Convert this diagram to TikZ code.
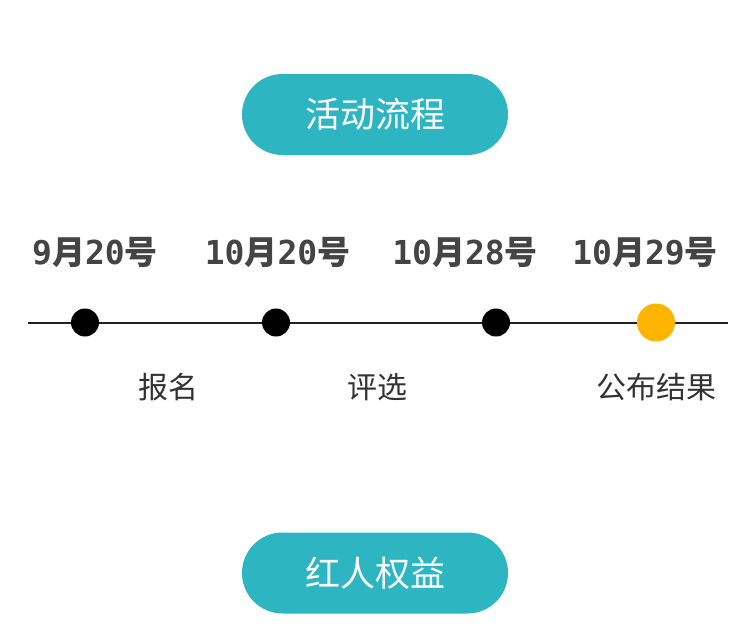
\documentclass[tikz,border=0pt]{standalone}
\usepackage{fontspec}
\newfontfamily\cjk{Noto Sans CJK SC}
\newfontfamily\monob{DejaVu Sans Mono Bold}
\definecolor{teal1}{HTML}{2DB5C1}
\definecolor{orange1}{HTML}{FFB400}
\definecolor{datec}{HTML}{444444}
\definecolor{labc}{HTML}{333333}
\definecolor{linec}{HTML}{222222}
\tikzset{
  pill/.style={fill=teal1, rounded corners=40.5pt, minimum width=266pt, minimum height=81pt, inner sep=0pt,
    text=white, font=\cjk\fontsize{35}{35}\selectfont},
  datelbl/.style={text=datec, inner sep=0pt, font=\cjk\bfseries\fontsize{33}{33}\selectfont},
  steplbl/.style={text=labc, inner sep=0pt, font=\cjk\fontsize{30}{30}\selectfont},
  dot/.style={circle, fill=black, minimum size=28pt, inner sep=0pt},
  bigdot/.style={circle, fill=orange1, minimum size=38pt, inner sep=0pt},
  tline/.style={draw=linec, line width=2pt}
}
\begin{document}
\begin{tikzpicture}[x=1pt,y=-1pt]
\useasboundingbox (0,0) rectangle (750,643);
\node[pill] (p1) at (375,114.5) {活动流程};
\node[pill] (p2) at (375,573) {红人权益};
\node[datelbl] (t1) at (95,252) {{\monob 9}月{\monob 20}号};
\node[datelbl] (t2) at (277.5,252) {{\monob 10}月{\monob 20}号};
\node[datelbl] (t3) at (465,252) {{\monob 10}月{\monob 28}号};
\node[datelbl] (t4) at (645,252) {{\monob 10}月{\monob 29}号};
\coordinate (L) at (28,322.5);
\coordinate (R) at (728,322.5);
\node[dot] (d1) at (85,322.5) {};
\node[dot] (d2) at (276,322.5) {};
\node[dot] (d3) at (496,322.5) {};
\node[bigdot] (d4) at (656,322.5) {};
\draw[tline] (L) -- (d1);
\draw[tline] (d1) -- (d2);
\draw[tline] (d2) -- (d3);
\draw[tline] (d3) -- (d4);
\draw[tline] (d4) -- (R);
\node[steplbl] (s1) at (168,387) {报名};
\node[steplbl] (s2) at (377,387) {评选};
\node[steplbl] (s3) at (656.5,387) {公布结果};
\end{tikzpicture}
\end{document}
